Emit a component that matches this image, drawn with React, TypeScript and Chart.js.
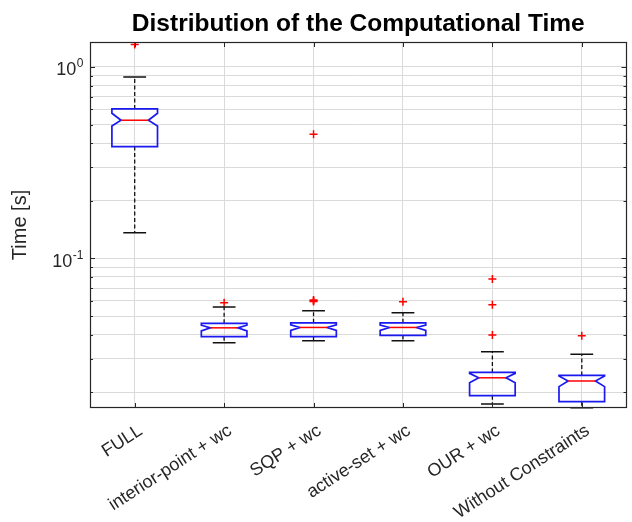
import React, { useEffect, useRef } from 'react';
import { Chart, registerables } from 'chart.js';

Chart.register(...registerables);

// ---- data ----
const categories = ['FULL', 'interior-point + wc', 'SQP + wc', 'active-set + wc', 'OUR + wc', 'Without Constraints'];
const whiskerLow = [0.136, 0.0363, 0.0372, 0.0372, 0.01736, 0.0166];
const q1 = [0.384, 0.039, 0.039, 0.0396, 0.0192, 0.01785];
const notchLow = [0.492, 0.0418, 0.0421, 0.0421, 0.0224, 0.0214];
const medians = [0.527, 0.0434, 0.0436, 0.0436, 0.0238, 0.0229];
const notchHigh = [0.573, 0.0448, 0.045, 0.0449, 0.0251, 0.0243];
const q3 = [0.604, 0.0458, 0.0461, 0.0461, 0.0254, 0.0245];
const whiskerHigh = [0.887, 0.0557, 0.0533, 0.052, 0.0326, 0.0316];
const outliers = [
  [1.31],
  [0.0587],
  [0.445, 0.0596, 0.0601, 0.0606],
  [0.0594],
  [0.078, 0.0573, 0.0398],
  [0.0394],
];
const yMin = 0.01655;
const yMax = 1.35;
const yLabelValues = [0.1, 1];
const yLabelBase = ['10', '10'];
const yLabelExp = ['-1', '0'];

const FONT = '"Liberation Sans", Arial, Helvetica, sans-serif';
const AXIS = '#262626';
const GRID = '#dadada';

const boxPlugin = {
  id: 'boxDraw',
  afterDatasetsDraw(chart: any) {
    const { ctx, scales } = chart;
    const x = scales.x;
    const y = scales.y;
    const step = x.getPixelForValue(1) - x.getPixelForValue(0);
    const hw = step * 0.255;
    const capHw = hw * 0.5;
    const depth = hw * 0.4;
    ctx.save();
    for (let i = 0; i < categories.length; i++) {
      const cx = x.getPixelForValue(i);
      const yq1 = y.getPixelForValue(q1[i]);
      const yq3 = y.getPixelForValue(q3[i]);
      const ynl = y.getPixelForValue(notchLow[i]);
      const ynh = y.getPixelForValue(notchHigh[i]);
      const ym = y.getPixelForValue(medians[i]);
      const ywl = y.getPixelForValue(whiskerLow[i]);
      const ywh = y.getPixelForValue(whiskerHigh[i]);
      // whiskers (dashed)
      ctx.strokeStyle = '#111';
      ctx.lineWidth = 1.3;
      ctx.setLineDash([4, 2.5]);
      ctx.beginPath();
      ctx.moveTo(cx, yq3);
      ctx.lineTo(cx, ywh);
      ctx.moveTo(cx, yq1);
      ctx.lineTo(cx, ywl);
      ctx.stroke();
      ctx.setLineDash([]);
      // caps
      ctx.lineWidth = 1.5;
      ctx.beginPath();
      ctx.moveTo(cx - capHw, ywh);
      ctx.lineTo(cx + capHw, ywh);
      ctx.moveTo(cx - capHw, ywl);
      ctx.lineTo(cx + capHw, ywl);
      ctx.stroke();
      // notched box
      ctx.strokeStyle = 'rgb(25,25,240)';
      ctx.lineWidth = 1.7;
      ctx.lineJoin = 'miter';
      ctx.beginPath();
      ctx.moveTo(cx - hw, yq3);
      ctx.lineTo(cx - hw, ynh);
      ctx.lineTo(cx - hw + depth, ym);
      ctx.lineTo(cx - hw, ynl);
      ctx.lineTo(cx - hw, yq1);
      ctx.lineTo(cx + hw, yq1);
      ctx.lineTo(cx + hw, ynl);
      ctx.lineTo(cx + hw - depth, ym);
      ctx.lineTo(cx + hw, ynh);
      ctx.lineTo(cx + hw, yq3);
      ctx.closePath();
      ctx.stroke();
      // median
      ctx.strokeStyle = 'rgb(255,0,0)';
      ctx.lineWidth = 1.5;
      ctx.beginPath();
      ctx.moveTo(cx - hw + depth, ym);
      ctx.lineTo(cx + hw - depth, ym);
      ctx.stroke();
    }
    ctx.restore();
  },
  afterDraw(chart: any) {
    const { ctx, chartArea, scales } = chart;
    const x = scales.x;
    const y = scales.y;
    const { left, right, top, bottom } = chartArea;
    ctx.save();
    ctx.strokeStyle = AXIS;
    ctx.lineWidth = 1.2;
    ctx.strokeRect(Math.round(left) + 0.5, Math.round(top) + 0.5, Math.round(right - left) - 1, Math.round(bottom - top) - 1);
    // y ticks (inside, both sides)
    ctx.lineWidth = 1;
    ctx.beginPath();
    for (const t of y.ticks) {
      const py = Math.round(y.getPixelForValue(t.value)) + 0.5;
      if (py < top + 1 || py > bottom - 1) continue;
      const len = t.major ? 5 : 3;
      ctx.moveTo(left, py);
      ctx.lineTo(left + len, py);
      ctx.moveTo(right, py);
      ctx.lineTo(right - len, py);
    }
    // x ticks (inside, top and bottom)
    for (let i = 0; i < categories.length; i++) {
      const px = Math.round(x.getPixelForValue(i)) + 0.5;
      ctx.moveTo(px, bottom);
      ctx.lineTo(px, bottom - 5);
      ctx.moveTo(px, top);
      ctx.lineTo(px, top + 5);
    }
    ctx.stroke();
    // y tick labels 10^n
    ctx.fillStyle = AXIS;
    ctx.textBaseline = 'alphabetic';
    ctx.textAlign = 'left';
    const rightEdge = left - 7;
    for (let k = 0; k < yLabelValues.length; k++) {
      const py = y.getPixelForValue(yLabelValues[k]);
      ctx.font = `18px ${FONT}`;
      const bw = ctx.measureText(yLabelBase[k]).width;
      ctx.font = `12px ${FONT}`;
      const ew = ctx.measureText(yLabelExp[k]).width;
      const x0 = rightEdge - bw - ew;
      ctx.font = `18px ${FONT}`;
      ctx.fillText(yLabelBase[k], x0, py + 8.3);
      ctx.font = `12px ${FONT}`;
      ctx.fillText(yLabelExp[k], x0 + bw + 0.5, py + 0.3);
    }
    ctx.restore();
  },
};

export default function App() {
  const ref = useRef<HTMLCanvasElement | null>(null);
  useEffect(() => {
    const canvas = ref.current;
    if (!canvas) return;
    const points = outliers.flatMap((arr, i) => arr.map((v) => ({ x: categories[i], y: v })));
    const chart = new Chart(canvas, {
      type: 'line',
      data: {
        labels: categories,
        datasets: [
          {
            label: 'Outliers',
            data: points as any,
            showLine: false,
            pointStyle: 'cross',
            pointRadius: 4,
            pointBorderWidth: 1.5,
            pointBorderColor: 'rgb(255,0,0)',
            pointBackgroundColor: 'rgb(255,0,0)',
            borderColor: 'rgb(255,0,0)',
            backgroundColor: 'rgb(255,0,0)',
          },
        ],
      },
      options: {
        animation: false,
        responsive: false,
        events: [],
        layout: { padding: { left: 0, right: 1, top: 0, bottom: 0 } },
        plugins: {
          legend: { display: false },
          tooltip: { enabled: false },
          title: {
            display: true,
            text: 'Distribution of the Computational Time',
            fullSize: false,
            color: '#000',
            font: { family: FONT, size: 24.5, weight: 'bold', lineHeight: 1.2 },
            padding: { top: 9.8, bottom: 2.8 },
          },
        },
        scales: {
          x: {
            type: 'category',
            offset: true,
            grid: { color: GRID, drawTicks: false, offset: false },
            border: { display: false },
            ticks: {
              autoSkip: false,
              maxRotation: 33,
              minRotation: 33,
              padding: 12,
              labelOffset: 6,
              color: AXIS,
              font: { family: FONT, size: 18 },
            },
            afterFit: (s: any) => {
              s.height = 114;
            },
          },
          y: {
            type: 'logarithmic',
            min: yMin,
            max: yMax,
            grid: { color: GRID, drawTicks: false },
            border: { display: false },
            ticks: { display: false },
            afterBuildTicks: (s: any) => {
              const t: any[] = [];
              for (let e = -2; e <= 0; e++) {
                for (let m = 1; m <= 9; m++) {
                  const v = m * Math.pow(10, e);
                  if (v > yMin && v < yMax) t.push({ value: v, major: m === 1 });
                }
              }
              s.ticks = t;
            },
            title: {
              display: true,
              text: 'Time [s]',
              color: AXIS,
              font: { family: FONT, size: 20, lineHeight: 1.2 },
              padding: { top: 8, bottom: 0 },
            },
            afterFit: (s: any) => {
              s.width = 90;
            },
          },
        },
      },
      plugins: [boxPlugin],
    });
    return () => chart.destroy();
  }, []);
  return (
    <div style={{ position: 'absolute', left: 0, top: 0, width: 632, height: 522, background: '#fff' }}>
      <canvas ref={ref} width={632} height={522} style={{ width: 632, height: 522, display: 'block' }} />
    </div>
  );
}
